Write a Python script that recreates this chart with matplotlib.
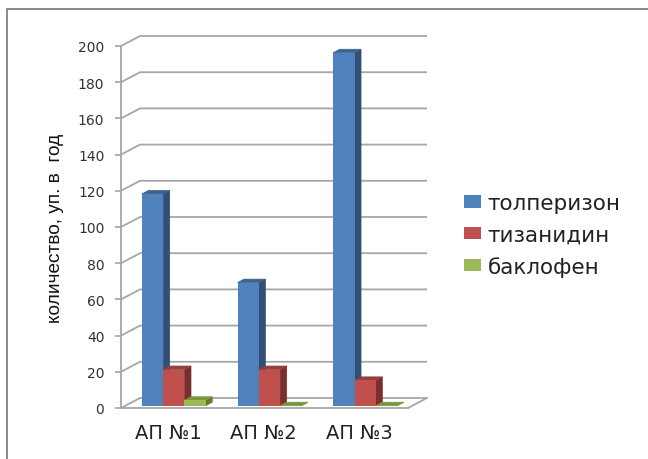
import matplotlib
matplotlib.use("Agg")
import matplotlib.pyplot as plt
from matplotlib.lines import Line2D
from matplotlib.patches import Polygon

categories = ["АП №1", "АП №2", "АП №3"]
series_names = ["толперизон", "тизанидин", "баклофен"]
tolperizon = [117, 68, 195]
tizanidin = [20, 20, 14]
baklofen = [3, 0, 0]
y_ticks = list(range(0, 201, 20))

front_colors = ["#4f81bd", "#c0504d", "#9bbb59"]
side_colors = ["#2f4f76", "#7a2f2d", "#62792f"]
top_colors = ["#3c6390", "#96403d", "#7a9440"]
grid_color = "#a6a6a6"

W, H = 648, 460
fig = plt.figure(figsize=(W / 100, H / 100), dpi=100)
# axes box is the front plane of the pseudo 3d chart
left, right, top, bottom = 121, 408, 47, 409
ax = fig.add_axes([left / W, 1 - bottom / H, (right - left) / W, (bottom - top) / H])
ax.set_xlim(0, 3)
ax.set_ylim(0, 200)
ax.patch.set_alpha(0)

# oblique offsets, in data units
wall_dx = 19 / 95.67
wall_dy = 10 / 1.81
bar_shift_x = 5 / 95.67
bar_shift_y = 2.3 / 1.81
bar_dx = 6.5 / 95.67
bar_dy = 3.5 / 1.81
bar_w = 21.3 / 95.67

# wall gridlines, slanted at the left and flat along the back
for t in y_ticks:
    ax.plot([0, wall_dx, 3 + wall_dx], [t, t + wall_dy, t + wall_dy],
            color=grid_color, lw=1.3, clip_on=False, zorder=1, solid_capstyle="butt")
# floor edge on the right
ax.plot([3, 3 + wall_dx], [0, wall_dy], color=grid_color, lw=1.3, clip_on=False, zorder=1)

all_series = [tolperizon, tizanidin, baklofen]
for s, vals in enumerate(all_series):
    xs = [i + 0.5 + bar_shift_x + (s - 1) * bar_w for i in range(len(vals))]
    ax.bar(xs, vals, width=bar_w, bottom=bar_shift_y, color=front_colors[s],
           label=series_names[s], zorder=3 + s * 2)
    for x, v in zip(xs, vals):
        x0, x1 = x - bar_w / 2, x + bar_w / 2
        y1 = v + bar_shift_y
        ax.add_patch(Polygon([(x1, bar_shift_y), (x1 + bar_dx, bar_shift_y + bar_dy),
                              (x1 + bar_dx, y1 + bar_dy), (x1, y1)],
                             facecolor=side_colors[s], edgecolor=side_colors[s], lw=0.5,
                             zorder=2 + s * 2, clip_on=False))
        ax.add_patch(Polygon([(x0, y1), (x0 + bar_dx, y1 + bar_dy),
                              (x1 + bar_dx, y1 + bar_dy), (x1, y1)],
                             facecolor=top_colors[s], edgecolor=top_colors[s], lw=0.5,
                             zorder=2 + s * 2, clip_on=False))

for side in ["top", "right"]:
    ax.spines[side].set_visible(False)
for side in ["left", "bottom"]:
    ax.spines[side].set_color(grid_color)
    ax.spines[side].set_linewidth(1.3)

ax.set_yticks(y_ticks)
ax.set_xticks([i + 0.49 for i in range(len(categories))])
ax.set_xticklabels(categories, fontsize=14, color="#222222")
ax.tick_params(axis="x", length=0, pad=11)
ax.tick_params(axis="y", length=4, width=1.2, color=grid_color, labelsize=10,
               labelcolor="#333333", pad=8)
ax.set_ylabel("количество, уп. в  год", fontsize=13.7, family="Liberation Sans",
              color="#111111", labelpad=10)

ax.legend(loc="center left", bbox_to_anchor=(464 / W, 1 - 236 / H),
          bbox_transform=fig.transFigure, frameon=False, fontsize=15.5,
          handlelength=0.8, handleheight=0.52, handletextpad=0.3,
          labelspacing=0.52, labelcolor="#222222", borderpad=0, borderaxespad=0)

# thin frame around the chart, open at the right and bottom
fig.add_artist(Line2D([7 / W, 7 / W, 1], [0, 1 - 10 / H, 1 - 10 / H], color="#808080", lw=1.3))

fig.savefig("out.png", dpi=100)
